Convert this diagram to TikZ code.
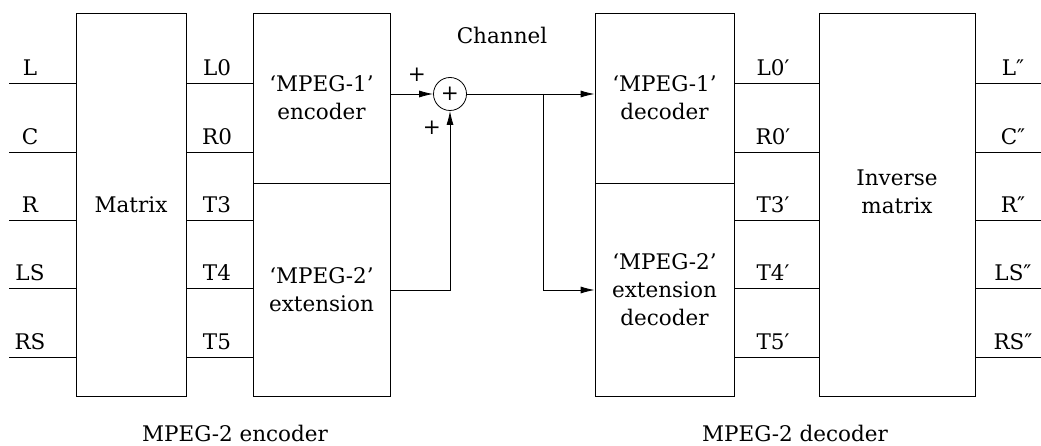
\documentclass[tikz,border=0pt]{standalone}
\usepackage{fontspec}
\setmainfont{DejaVu Serif}
\usetikzlibrary{arrows.meta}
\tikzset{
  blk/.style={draw, thick, rectangle, inner sep=0pt, align=center},
  arr/.style={thick, -{Latex[length=14pt,width=7pt]}},
  lab/.style={inner sep=0pt}
}
\begin{document}
\begin{tikzpicture}[x=1pt, y=-1pt, font=\fontsize{21.5}{28}\selectfont]
\useasboundingbox (0,0) rectangle (1041,446);

\node[blk, minimum width=110pt, minimum height=383pt] (mat) at (131,204.5) {Matrix};
\node[blk, minimum width=137pt, minimum height=170pt] (enc1) at (321.5,98) {`MPEG-1'\\encoder};
\node[blk, minimum width=137pt, minimum height=213pt] (enc2) at (321.5,289.5) {`MPEG-2'\\extension};
\node[blk, minimum width=139pt, minimum height=170pt] (dec1) at (664.5,98) {`MPEG-1'\\decoder};
\node[blk, minimum width=139pt, minimum height=213pt] (dec2) at (664.5,289.5) {`MPEG-2'\\extension\\decoder};
\node[blk, minimum width=156pt, minimum height=383pt] (inv) at (897,204.5) {};
\node[lab, align=center] (invtxt) at (897,192) {Inverse\\matrix};
\node[draw, thick, circle, minimum size=33pt, inner sep=0pt] (sum) at (450,94) {+};

\foreach \y/\a/\b/\c/\d [count=\i] in {83/L/L0/L0′/L″, 152/C/R0/R0′/C″,
    220/R/T3/T3′/R″, 288/LS/T4/T4′/LS″, 357/RS/T5/T5′/RS″} {
  \coordinate (in\i) at (9,\y); \coordinate (out\i) at (1041,\y);
  \draw[thick] (in\i) -- (in\i -| mat.west);
  \draw[thick] (in\i -| mat.east) -- (in\i -| enc1.west);
  \draw[thick] (in\i -| dec1.east) -- (in\i -| inv.west);
  \draw[thick] (in\i -| inv.east) -- (out\i);
  \node[lab] (a\i) at (30,\y-15) {\a};
  \node[lab] (b\i) at (217,\y-15) {\b};
  \node[lab] (c\i) at (773,\y-15) {\c};
  \node[lab] (d\i) at (1013,\y-15) {\d};
}

\coordinate (lo) at (0,290) ;\coordinate (br) at (543,94) ;
\draw[arr] (enc1.east |- sum) -- (sum);
\draw[arr] (enc2.east |- lo) -| (sum);
\draw[arr] (sum) -- (dec1.west |- sum);
\draw[arr] (br) |- (dec2.west |- lo);

\node[lab] (p1) at (417,75) {+};
\node[lab] (p2) at (432,128) {+};
\node (chan) at (502,35) {Channel};
\node (enctxt) at (235,433) {MPEG-2 encoder};
\node (dectxt) at (795,433) {MPEG-2 decoder};
\end{tikzpicture}
\end{document}
